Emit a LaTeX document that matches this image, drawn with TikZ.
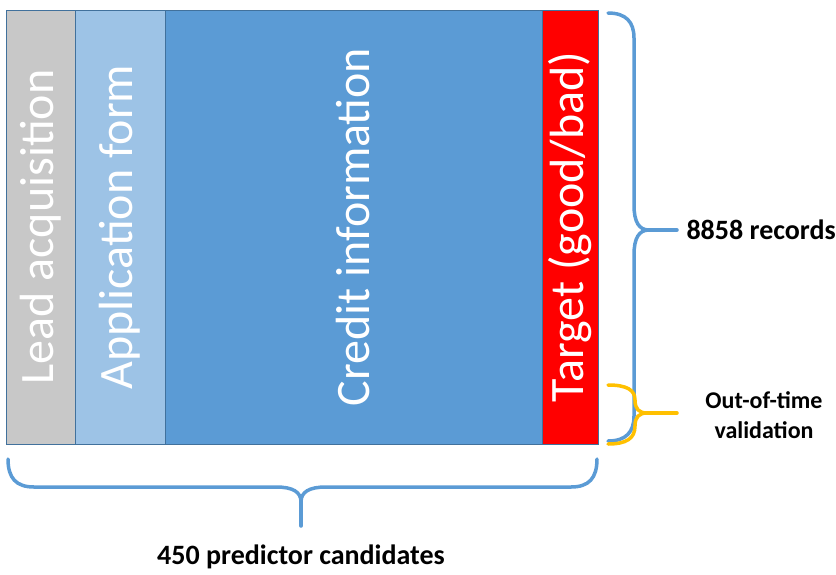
\documentclass[tikz,border=0pt]{standalone}
\usepackage{fontspec}
\setmainfont{Carlito}
\definecolor{cgray}{HTML}{C8C8C8}
\definecolor{clight}{HTML}{9DC3E6}
\definecolor{cblue}{HTML}{5B9BD5}
\definecolor{cred}{HTML}{FF0000}
\definecolor{cborder}{HTML}{41719C}
\definecolor{cyellow}{HTML}{FFC000}
\begin{document}
\begin{tikzpicture}[x=1pt,y=-1pt,
  col/.style={draw=cborder,line width=1pt,anchor=north west,inner sep=0pt,outer sep=0pt},
  coltext/.style={text=white,rotate=90,font=\fontsize{48}{50}\selectfont,inner sep=0pt},
  lab/.style={font=\bfseries\fontsize{28}{30}\selectfont,text=black,align=center},
  brace/.style={draw=cblue,line width=3.5pt,line cap=round},
  ybrace/.style={draw=cyellow,line width=3.5pt,line cap=round}]
\useasboundingbox (0,0) rectangle (836,574);
% columns
\node[col,fill=cgray,minimum width=69pt,minimum height=434pt] (lead) at (6,10) {};
\node[col,fill=clight,minimum width=90pt,minimum height=434pt] (app) at (75,10) {};
\node[col,fill=cblue,minimum width=377pt,minimum height=434pt] (credit) at (165,10) {};
\node[col,fill=cred,minimum width=56pt,minimum height=434pt] (target) at (542,10) {};
\node[coltext] (tlead) at (lead.center) {Lead acquisition};
\node[coltext] (tapp) at (app.center) {Application form};
\node[coltext] (tcredit) at (credit.center) {Credit information};
\node[coltext] (ttarget) at (target.center) {Target (good/bad)};
% right brace
\coordinate (rb1) at (608,13);
\coordinate (rb2) at (608,441);
\coordinate (rtip) at (677,230);
\draw[brace] (rb1) .. controls (626,13) and (634,22) .. (634,38) -- (634,205)
  .. controls (634,222) and (639,230) .. (649,230) .. controls (639,230) and (634,238) .. (634,255)
  -- (634,416) .. controls (634,432) and (626,441) .. (rb2);
\draw[brace] (649,230) -- (rtip);
\node[lab,anchor=west] (records) at (683,230) {8858 records};
% yellow brace
\coordinate (yb1) at (608,385);
\coordinate (yb2) at (608,444);
\coordinate (ytip) at (677,413);
\draw[ybrace] (yb1) .. controls (627,385) and (635,390) .. (635,400)
  .. controls (635,409) and (639,413) .. (647,413) .. controls (639,413) and (635,417) .. (635,426)
  .. controls (635,438) and (627,444) .. (yb2);
\draw[ybrace] (647,413) -- (ytip);
\node[lab,font=\bfseries\fontsize{24}{30}\selectfont] (oot) at (764,415) {Out-of-time\\validation};
% bottom brace
\coordinate (bb1) at (8,459);
\coordinate (bb2) at (597,459);
\coordinate (btip) at (301,526);
\draw[brace] (bb1) .. controls (8,478) and (16,487) .. (34,487) -- (276,487)
  .. controls (293,487) and (301,492) .. (301,502) .. controls (301,492) and (309,487) .. (326,487)
  -- (571,487) .. controls (589,487) and (597,478) .. (bb2);
\draw[brace] (301,502) -- (btip);
\node[lab] (pred) at (301,557) {450 predictor candidates};
\end{tikzpicture}
\end{document}
